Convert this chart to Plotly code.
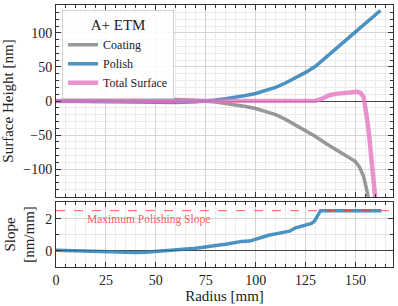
import plotly.graph_objects as go
from plotly.subplots import make_subplots

# ---- data ----
coating_r = [0, 10, 20, 30, 40, 50, 60, 70, 75, 80, 85, 90, 95, 100, 105, 110, 115, 120, 125, 130, 135, 140, 145, 148, 150, 152, 154, 156, 157.5]
coating_h = [0, 0.3, 0.8, 1.5, 2.0, 2.5, 2.2, 1.2, 0.3, -1.5, -3.5, -5.5, -8, -11, -15, -20, -27, -35, -43, -52, -62, -71, -79, -84, -89, -97, -110, -135, -160]

polish_r = [0, 10, 20, 30, 40, 50, 60, 70, 75, 80, 85, 90, 95, 100, 105, 110, 115, 120, 125, 130, 135, 140, 145, 150, 155, 160, 162.5]
polish_h = [0, -0.2, -0.6, -1.2, -1.8, -2.3, -2.1, -1.0, -0.2, 1.5, 3.5, 5.5, 8, 11, 15, 20, 26.5, 34, 42, 51, 64, 76.5, 89, 101.5, 114, 126.5, 133]

total_r = [0, 50, 100, 128, 130, 133, 137, 140, 144, 148, 151, 152.5, 154, 154.6, 155.3, 156, 157, 158, 159, 160, 160.5]
total_h = [0, 0, 0, 0, 0.5, 3, 8.5, 10.5, 12, 13, 13.5, 12, 6, -3, -15, -30, -55, -80, -110, -140, -160]

slope_r = [0, 5, 10, 15, 20, 25, 30, 35, 40, 45, 50, 55, 60, 65, 70, 73, 75, 80, 85, 90, 93, 97, 100, 103, 107, 110, 115, 117, 120, 123, 125, 128, 129.5, 130.5, 131.5, 132.5, 163]
slope_v = [0.02, 0.0, -0.02, -0.05, -0.04, -0.06, -0.08, -0.1, -0.12, -0.1, -0.06, -0.02, 0.05, 0.1, 0.15, 0.2, 0.25, 0.32, 0.4, 0.5, 0.58, 0.6, 0.72, 0.85, 0.98, 1.05, 1.17, 1.22, 1.43, 1.52, 1.58, 1.7, 1.85, 2.1, 2.35, 2.5, 2.5]

max_slope = 2.5
legend_title = "A+ ETM"
series_names = ["Coating", "Polish", "Total Surface"]

# ---- styling ----
FONT = "Liberation Serif"
C_GRAY = "rgba(127,127,127,0.8)"
C_BLUE = "rgba(31,119,180,0.8)"
C_PINK = "rgba(227,119,194,0.8)"

fig = make_subplots(rows=2, cols=1, shared_xaxes=True)

fig.add_trace(go.Scatter(x=coating_r, y=coating_h, mode="lines", name=series_names[0],
                         line=dict(color=C_GRAY, width=3.5)), row=1, col=1)
fig.add_trace(go.Scatter(x=polish_r, y=polish_h, mode="lines", name=series_names[1],
                         line=dict(color=C_BLUE, width=3.5)), row=1, col=1)
fig.add_trace(go.Scatter(x=total_r, y=total_h, mode="lines", name=series_names[2],
                         line=dict(color=C_PINK, width=4.5)), row=1, col=1)
fig.add_trace(go.Scatter(x=slope_r, y=slope_v, mode="lines", showlegend=False,
                         line=dict(color=C_BLUE, width=3.5)), row=2, col=1)

fig.add_hline(y=max_slope, line=dict(color="rgba(255,60,60,0.85)", width=1, dash="dash"), row=2, col=1)
fig.add_annotation(x=14.5, y=1.95, xref="x2", yref="y2", text="Maximum Polishing Slope",
                   showarrow=False, xanchor="left", yanchor="middle",
                   font=dict(family=FONT, size=11.5, color="rgba(255,60,60,0.85)"))

axis_common = dict(
    showline=True, linecolor="#333333", linewidth=1, mirror="allticks",
    ticks="inside", ticklen=5, tickwidth=1, tickcolor="#333333",
    showgrid=True, gridcolor="#d4d4d4", gridwidth=1, automargin=False,
    tickfont=dict(family=FONT, size=14, color="#222222"),
)

fig.update_xaxes(**axis_common, range=[0, 168.8], dtick=25, tick0=0, zeroline=False,
                 minor=dict(dtick=5, ticks="inside", ticklen=3, tickcolor="#333333",
                            showgrid=True, gridcolor="#ececec"))
fig.update_xaxes(showticklabels=False, row=1, col=1)
fig.update_xaxes(title=dict(text="Radius [mm]", font=dict(family=FONT, size=15, color="#222222"), standoff=2),
                 row=2, col=1)

fig.update_yaxes(**axis_common)
fig.update_yaxes(range=[-141, 141], dtick=50, tick0=0, zeroline=True, zerolinecolor="#444444", zerolinewidth=1,
                 minor=dict(dtick=10, ticks="inside", ticklen=3, tickcolor="#333333",
                            showgrid=True, gridcolor="#ececec"),
                 title=dict(text="Surface Height [nm]", font=dict(family=FONT, size=15, color="#222222"), standoff=6),
                 domain=[0.267, 1.0], row=1, col=1)
fig.update_yaxes(range=[-1.02, 3.04], dtick=2, tick0=0, zeroline=True, zerolinecolor="#444444", zerolinewidth=1,
                 minor=dict(dtick=1, ticks="inside", ticklen=3, tickcolor="#333333",
                            showgrid=True, gridcolor="#e4e4e4"),
                 title=dict(text="Slope<br>[nm/mm]", font=dict(family=FONT, size=15, color="#222222"), standoff=6),
                 domain=[0.0, 0.248], row=2, col=1)

fig.update_layout(
    width=398, height=306,
    margin=dict(l=56, r=5, t=5, b=39, autoexpand=False),
    plot_bgcolor="white", paper_bgcolor="white",
    font=dict(family=FONT, color="#222222"),
    legend=dict(
        x=0.018, y=0.982, xanchor="left", yanchor="top",
        bgcolor="rgba(255,255,255,0.85)", bordercolor="#d0d0d0", borderwidth=1,
        font=dict(family=FONT, size=12, color="#222222"),
        title=dict(text=legend_title, side="top center", font=dict(family=FONT, size=15)),
        itemwidth=30, tracegroupgap=0,
    ),
)

fig.write_html("out.html", config={"displayModeBar": False},
               post_script="document.body.style.margin='0';document.body.style.overflow='hidden';")
